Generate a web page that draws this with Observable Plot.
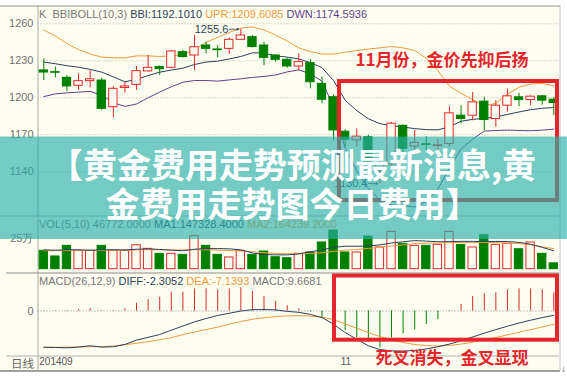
<!DOCTYPE html>
<html><head><meta charset="utf-8">
<script src="https://cdn.jsdelivr.net/npm/d3@7"></script>
<script src="https://cdn.jsdelivr.net/npm/@observablehq/plot@0.6"></script>
<style>
html,body{margin:0;padding:0;background:#fff;}
#chart{position:relative;width:567px;height:376px;overflow:hidden;background:#fff;}
.hdr{position:absolute;left:39px;font:11px "Liberation Sans",Arial,sans-serif;line-height:14px;white-space:pre;color:#777;}
</style></head><body><div id="chart"></div>
<script>
// ---------- data ----------
const openP  = [1222.2,1220.8,1216.2,1209.7,1213.5,1214.0,1192.4,1208.0,1210.5,1221.4,1224.9,1224.3,1237.0,1234.3,1242.4,1239.2,1239.7,1247.0,1249.2,1242.4,1234.3,1230.8,1225.4,1228.1,1211.3,1200.5,1172.5,1165.5,1168.0,1141.0,1146.0,1177.3,1160.5,1162.4,1160.8,1162.5,1185.5,1185.5,1196.9,1182.8,1193.6,1200.4,1198.2,1201.2,1198.5];
const highP  = [1231.6,1224.9,1218.0,1219.5,1222.0,1216.0,1209.0,1212.7,1225.4,1234.3,1226.0,1238.4,1238.4,1250.5,1245.1,1242.4,1248.6,1255.6,1250.5,1245.1,1235.0,1232.0,1235.7,1230.8,1216.7,1202.4,1174.0,1174.7,1169.5,1150.0,1180.0,1178.0,1173.7,1168.4,1166.5,1192.8,1193.6,1204.4,1200.4,1197.7,1207.2,1203.6,1201.7,1201.7,1200.4];
const lowP   = [1214.0,1216.2,1205.0,1206.0,1208.0,1190.0,1183.8,1203.8,1206.0,1221.0,1218.0,1223.5,1232.4,1222.2,1235.7,1232.4,1235.1,1246.5,1240.5,1226.2,1229.0,1224.0,1222.1,1207.3,1195.1,1165.0,1160.0,1160.0,1143.0,1130.4,1143.0,1155.0,1154.0,1157.0,1156.0,1160.0,1178.8,1181.4,1173.3,1176.0,1188.2,1192.8,1193.6,1194.0,1185.5];
const closeP = [1220.5,1220.3,1209.2,1213.5,1215.0,1191.0,1207.3,1209.2,1221.6,1224.3,1223.2,1237.6,1233.0,1241.0,1239.7,1238.6,1247.0,1250.5,1241.1,1232.4,1230.8,1225.4,1228.9,1212.6,1198.4,1173.5,1166.0,1168.5,1147.0,1146.0,1179.0,1158.6,1163.5,1161.8,1161.5,1187.4,1182.8,1196.3,1182.0,1193.6,1201.2,1198.2,1200.9,1197.7,1195.8];
const bbi = [1229,1227.6,1226,1224.8,1223,1220.8,1217,1213,1215,1218,1220.8,1222.5,1224,1227,1229,1229.7,1231.5,1233.5,1236.5,1236.2,1234,1233,1231.5,1228.5,1224.5,1214,1198,1189.6,1183,1179,1177.4,1176.3,1175,1174.2,1174,1176.5,1181,1182.5,1183.3,1184.5,1186.5,1188.5,1190.4,1191.5,1192.1];
const upr = [1255,1250,1244,1239,1235.5,1233,1232.5,1232.4,1234,1234,1233.5,1234,1235,1239,1245,1249,1253,1256.5,1257.5,1255,1251,1246,1240.5,1237.5,1235.5,1235.5,1237,1238.3,1239.5,1240.5,1241.6,1240.5,1238.3,1232,1222,1209.5,1203.5,1198.5,1193.6,1195.5,1203,1208.5,1211.2,1211.7,1209.6];
const dwn = [1201,1203.2,1204,1204.6,1205.2,1202,1196,1193,1195,1200,1204.6,1209,1212.6,1214,1214,1213.5,1214.5,1215.4,1216.5,1217.3,1218.5,1221,1222.6,1219.5,1213.5,1192.5,1159,1141,1126.5,1117.5,1113,1112.5,1111.5,1116,1126,1143,1158.5,1166.5,1173,1173.5,1173.8,1173.5,1173.3,1173.8,1174.6];
const volume = [14.7,10.2,18.7,14.7,14.7,18.7,14.7,14.7,19.2,16.3,12.3,12.3,11.5,26.7,18.7,11.5,9.4,14.7,11.5,14.2,9.6,8.8,12.3,13.4,21.4,31.0,13.4,13.4,26.2,17.4,29.9,20.3,18.7,18.7,19.5,29.9,19.5,17.4,27.2,19.5,20.3,16.0,21.4,12.3,4.68];
const volUp  = [0,0,0,1,1,0,1,1,1,1,0,1,0,1,0,0,1,1,0,0,0,0,1,0,0,0,0,1,0,1,1,0,1,0,1,1,0,1,0,1,1,0,1,0,0];
const volMA1 = [15.5,15.2,15.6,15.5,15.2,15.5,15.6,15.4,16,16.3,15.8,15.2,14.8,16,16.5,16.5,16.3,15.5,13,11.8,11.5,11.5,12.2,14,15.5,17.5,18.4,18.4,18.6,19.5,21,22,22.9,22.5,22,22.1,22.3,22.3,22.1,22.2,22.2,21.5,20,17.5,14.7];
const volMA2 = [14.8,14.8,14.9,15,15,15,15.1,15.2,15.4,15.6,15.6,15.5,15.4,15.6,15.6,15.3,15,14.6,14,13.2,12.6,12.4,12.4,12.6,13.2,14.3,15.2,15.8,16.6,17.5,18.5,19.5,20.4,20.8,21,21.3,21.5,21.5,21.4,21.3,21,20.5,19.6,18,16.4];
const macd = [-0.2,-0.2,0.3,0.8,1.3,0.3,0.3,1.2,4.1,6.0,7.3,10,10,11.8,11.8,11.3,11.8,12.3,10.4,7.7,5.2,2.9,1.2,-0.5,-4.1,-6.6,-10.4,-14.3,-16.6,-19.6,-14.3,-12.1,-10.0,-7.2,-4.7,-0.3,3.5,7.7,9.1,9.7,11.3,11.8,11.8,11.3,9.67];
const diff = [-19.3,-19.4,-19.6,-19.2,-18.5,-19.2,-19.0,-17.8,-15.5,-14.0,-12.5,-10.2,-8.0,-5.8,-4.0,-2.4,-1.2,0.0,0.7,0.8,0.6,-0.2,-0.7,-1.8,-3.5,-7.0,-11.5,-15.0,-18.5,-20.5,-21.2,-21.3,-21.0,-20.2,-19.0,-17.6,-15.8,-13.8,-11.8,-9.9,-8.1,-6.4,-4.9,-3.5,-2.3];
const dea  = [-19.3,-19.3,-19.2,-19.1,-19.0,-18.9,-18.7,-17.9,-17.2,-16.3,-15.3,-14.2,-12.5,-11.2,-9.9,-8.6,-7.0,-5.6,-4.4,-3.6,-3.0,-2.6,-2.5,-2.7,-3.3,-4.6,-6.8,-9.2,-11.5,-13.6,-15.4,-16.8,-17.8,-18.4,-18.6,-18.3,-17.6,-16.6,-15.4,-14.1,-12.7,-11.3,-9.9,-8.5,-7.14];
const priceTicks = [1140,1170,1200,1230,1260];
const volTicks = [25];
const macdTicks = [0];
const extremeIdx = [17,29];
const extremeVal = [1255.6,1130.4];
const dateIdx = [0,26];
const dateLabels = ["201409","11"];
const bannerLines = ["【黄金费用走势预测最新消息,黄","金费用走势图今日费用】"];
const note1 = "11月份，金价先抑后扬";
const note2 = "死叉消失，金叉显现";

// ---------- styles ----------
const RED="#e4262c", GREEN="#008000", CREAM="#fefef0", NAVY="#2d3f5e", ORANGE="#f29b3c", PURPLE="#5f3f92", GRID="#b4b4b4", LABEL="#707070", MRED="#d42a2a";
const n = openP.length, HALF = 0.36, ML = 43.3, MR = 13.7;
const candles = openP.map((o,i)=>({i, open:o, high:highP[i], low:lowP[i], close:closeP[i], up: closeP[i] >= o}));
const series = arr => arr.map((v,i)=>({i, v}));
const vols = volume.map((v,i)=>({i, v, up: volUp[i]===1}));
const bars = macd.map((v,i)=>({i, v}));
const extremes = extremeIdx.map((i,k)=>({i, v: extremeVal[k]}));
const dates = dateIdx.map((i,k)=>({i, t: dateLabels[k]}));
const chart = document.getElementById("chart");
function place(svg, top){
  svg.style.position="absolute"; svg.style.top=top+"px"; svg.style.left="0px";
  svg.style.overflow="visible"; svg.style.background="transparent"; svg.style.maxWidth="none";
  chart.appendChild(svg);
}
const F = "Liberation Sans";

// ---------- frame ----------
place(Plot.plot({
  width:567, height:376, margin:0,
  x:{type:"identity", axis:null}, y:{type:"identity", axis:null},
  marks:[
    Plot.rect([0], {x1:()=>0, x2:()=>559, y1:()=>5, y2:()=>371, fill:CREAM}),
    Plot.ruleY([5.5], {x1:()=>0, x2:()=>560, stroke:"#9a9a9a"}),
    Plot.ruleY([215.5], {x1:()=>0, x2:()=>559, stroke:"#b4b4b4"}),
    Plot.ruleY([272.5], {x1:()=>6, x2:()=>559, stroke:"#8c8c8c"}),
    Plot.ruleY([355.5], {x1:()=>6, x2:()=>559, stroke:"#b0b0b0"}),
    Plot.ruleY([370.5], {x1:()=>0, x2:()=>560, stroke:"#a0a0a0", strokeWidth:2}),
    Plot.ruleX([37.5], {y1:()=>5, y2:()=>371, stroke:"#a8a8a8"}),
    Plot.ruleX([559.5], {y1:()=>5, y2:()=>371, stroke:"#c4c4c4"}),
    Plot.text(["日线"], {text:d=>d, x:()=>33.5, y:()=>364, textAnchor:"end", fontSize:11.5, fill:"#666", fontFamily:"Noto Sans CJK SC"}),
    Plot.text(["↓"], {text:d=>d, x:()=>563, y:()=>368, fontSize:10, fill:"#555"})
  ]
}), 0);

// ---------- price panel ----------
place(Plot.plot({
  width:567, height:216, marginLeft:ML, marginRight:MR, marginTop:23.3, marginBottom:44.7,
  x:{domain:[0,n-1], axis:null}, y:{domain:[1140,1260], axis:null}, color:{type:"identity"},
  marks:[
    Plot.ruleY(priceTicks, {x1:()=>-0.5, x2:()=>n-0.6, stroke:GRID, strokeDasharray:"1,2"}),
    Plot.axisY(priceTicks, {anchor:"left", tickSize:0, tickPadding:10.3, label:null, tickFormat:d=>String(d), fill:LABEL, fontSize:11, fontFamily:F}),
    Plot.line(series(upr), {x:"i", y:"v", stroke:ORANGE, strokeWidth:1}),
    Plot.line(series(bbi), {x:"i", y:"v", stroke:NAVY, strokeWidth:1}),
    Plot.line(series(dwn), {x:"i", y:"v", stroke:PURPLE, strokeWidth:1}),
    Plot.ruleX(candles, {x:"i", y1:"low", y2:"high", stroke:d=>d.up?RED:GREEN, strokeWidth:1}),
    Plot.rect(candles, {x1:d=>d.i-HALF, x2:d=>d.i+HALF, y1:"open", y2:"close", fill:d=>d.up?CREAM:GREEN, stroke:d=>d.up?RED:GREEN, strokeWidth:1}),
    Plot.arrow(extremes, {x1:d=>d.i-1.0, x2:d=>d.i-0.18, y1:"v", y2:"v", stroke:NAVY, strokeWidth:0.8, headLength:4}),
    Plot.text(extremes, {x:"i", y:"v", text:d=>d.v.toFixed(1), textAnchor:"end", dx:-12.5, fill:NAVY, fontSize:11, fontFamily:F})
  ]
}), 0);

// ---------- volume panel ----------
place(Plot.plot({
  width:567, height:56, marginLeft:ML, marginRight:MR, marginTop:21.5, marginBottom:3.3,
  x:{domain:[0,n-1], axis:null}, y:{domain:[0,25], axis:null}, color:{type:"identity"},
  marks:[
    Plot.axisY(volTicks, {anchor:"left", tickSize:0, tickPadding:10.3, label:null, tickFormat:d=>d+"万", fill:LABEL, fontSize:11, fontFamily:F}),
    Plot.rect(vols, {x1:d=>d.i-HALF, x2:d=>d.i+HALF, y1:()=>0, y2:"v", fill:d=>d.up?CREAM:GREEN, stroke:d=>d.up?RED:GREEN, strokeWidth:1}),
    Plot.line(series(volMA2), {x:"i", y:"v", stroke:ORANGE, strokeWidth:1}),
    Plot.line(series(volMA1), {x:"i", y:"v", stroke:NAVY, strokeWidth:1})
  ]
}), 216);

// ---------- MACD panel ----------
place(Plot.plot({
  width:567, height:104, marginLeft:ML, marginRight:MR, marginTop:19.7, marginBottom:27.9,
  x:{domain:[0,n-1], axis:null}, y:{domain:[-20,10], axis:null}, color:{type:"identity"},
  marks:[
    Plot.ruleY(macdTicks, {x1:()=>-0.5, x2:()=>n-0.6, stroke:"#8a8a8a", strokeDasharray:"1,2"}),
    Plot.axisY(macdTicks, {anchor:"left", tickSize:0, tickPadding:10.3, label:null, tickFormat:d=>String(d), fill:LABEL, fontSize:11, fontFamily:F}),
    Plot.ruleX(bars, {x:"i", y1:()=>0, y2:"v", stroke:d=>d.v>=0?MRED:GREEN, strokeWidth:1}),
    Plot.line(series(dea), {x:"i", y:"v", stroke:ORANGE, strokeWidth:1}),
    Plot.line(series(diff), {x:"i", y:"v", stroke:NAVY, strokeWidth:1}),
    Plot.text(dates, {x:"i", text:"t", frameAnchor:"bottom", dy:16, dx:-4.5, textAnchor:"start", fill:"#555", fontSize:10, fontFamily:F})
  ]
}), 272);

// ---------- panel headers ----------
function header(top, parts){
  const d = document.createElement("div");
  d.className = "hdr"; d.style.top = top+"px";
  parts.forEach(([t,c],k)=>{ const s=document.createElement("span"); s.textContent=t; s.style.color=c; d.appendChild(s); if(k<parts.length-1) d.appendChild(document.createTextNode(k===0&&t==="K"?"  ":" ")); });
  chart.appendChild(d);
}
header(7, [["K","#777"],["BBIBOLL(10,3)","#777"],["BBI:1192.1010",NAVY],["UPR:1209.6085",ORANGE],["DWN:1174.5936",PURPLE]]);
header(217, [["VOL(5,10)","#777"],["46772.0000","#777"],["MA1:147328.4000",NAVY],["MA2:164239.2000",ORANGE]]);
header(274, [["MACD(26,12,9)","#777"],["DIFF:-2.3052",NAVY],["DEA:-7.1393",ORANGE],["MACD:9.6681","#777"]]);

// ---------- annotations + banner ----------
place(Plot.plot({
  width:567, height:376, margin:0,
  x:{type:"identity", axis:null}, y:{type:"identity", axis:null},
  marks:[
    Plot.rect([0], {x1:()=>339, x2:()=>557, y1:()=>81, y2:()=>200, fill:"none", stroke:RED, strokeWidth:4}),
    Plot.rect([0], {x1:()=>334, x2:()=>557, y1:()=>275.5, y2:()=>339.7, fill:"none", stroke:RED, strokeWidth:4}),
    Plot.text([note1], {text:d=>d, x:()=>355, y:()=>60.5, textAnchor:"start", fill:RED, fontSize:17, fontWeight:"bold", fontFamily:"Noto Sans CJK SC"}),
    Plot.text([note2], {text:d=>d, x:()=>375, y:()=>358, textAnchor:"start", fill:RED, fontSize:17, fontWeight:"bold", fontFamily:"Noto Sans CJK SC"}),
    Plot.rect([0], {x1:()=>0, x2:()=>567, y1:()=>136.5, y2:()=>239, fill:"#29afab", fillOpacity:0.65}),
    Plot.text(bannerLines, {text:d=>d, x:()=>292, y:(d,i)=>167+39*i, textAnchor:"middle", fill:"#ffffff", fontSize:34, fontWeight:"bold", fontFamily:"Noto Sans CJK SC"})
  ]
}), 0);
</script></body></html>
